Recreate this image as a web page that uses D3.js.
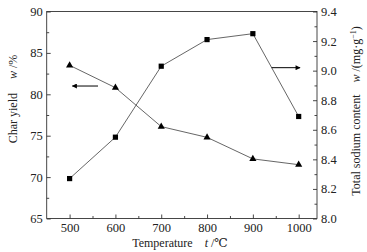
<!DOCTYPE html>
<html>
<head>
<meta charset="utf-8">
<script src="https://cdn.jsdelivr.net/npm/d3@7"></script>
<style>
  html, body { margin: 0; padding: 0; background: #fff; }
  svg { display: block; font-family: "Liberation Serif", "DejaVu Serif", serif; }
</style>
</head>
<body>
<div id="chart"></div>
<script>
// temperature (°C)
const temps = [500, 600, 700, 800, 900, 1000];
// char yield, w / %  (left axis, triangles)
const charYield = [83.5, 80.8, 76.1, 74.8, 72.2, 71.5];
// total sodium content, w / (mg·g-1)  (right axis, squares)
const sodium = [8.27, 8.55, 9.03, 9.21, 9.25, 8.69];

const xTicks = [500, 600, 700, 800, 900, 1000];
const xMinor = [550, 650, 750, 850, 950];
const yLeftTicks = [65, 70, 75, 80, 85, 90];
const yLeftMinor = [67.5, 72.5, 77.5, 82.5, 87.5];
const yRightTicks = [8.0, 8.2, 8.4, 8.6, 8.8, 9.0, 9.2, 9.4];
const yRightMinor = [8.1, 8.3, 8.5, 8.7, 8.9, 9.1, 9.3];

const W = 367, H = 252;
const plot = { left: 46.7, right: 317, top: 11.5, bottom: 218.5 };

const svg = d3.select("#chart").append("svg")
  .attr("width", W).attr("height", H);

const x = d3.scaleLinear().domain([450, 1040]).range([plot.left, plot.right]);
const yL = d3.scaleLinear().domain([65, 90]).range([plot.bottom, plot.top]);
const yR = d3.scaleLinear().domain([8.0, 9.4]).range([plot.bottom, plot.top]);

const ink = "#333";

// frame
svg.append("rect")
  .attr("x", plot.left).attr("y", plot.top)
  .attr("width", plot.right - plot.left).attr("height", plot.bottom - plot.top)
  .attr("fill", "none").attr("stroke", ink).attr("stroke-width", 0.9);

function styleAxis(g) {
  g.select(".domain").remove();
  g.selectAll(".tick line").attr("stroke", ink).attr("stroke-width", 0.9);
  g.selectAll(".tick text").attr("fill", "#222").attr("font-size", 12.5)
    .attr("font-family", "Liberation Serif, serif");
}

// bottom axis (ticks inside)
svg.append("g").attr("transform", `translate(0,${plot.bottom})`)
  .call(d3.axisBottom(x).tickValues(xTicks).tickSizeInner(-4).tickSizeOuter(0).tickPadding(5)
    .tickFormat(d3.format("d")))
  .call(styleAxis);
svg.append("g").attr("transform", `translate(0,${plot.bottom})`)
  .call(d3.axisBottom(x).tickValues(xMinor).tickSizeInner(-2.5).tickSizeOuter(0).tickFormat(""))
  .call(styleAxis);

// left axis
svg.append("g").attr("transform", `translate(${plot.left},0)`)
  .call(d3.axisLeft(yL).tickValues(yLeftTicks).tickSizeInner(-4).tickSizeOuter(0).tickPadding(4))
  .call(styleAxis);
svg.append("g").attr("transform", `translate(${plot.left},0)`)
  .call(d3.axisLeft(yL).tickValues(yLeftMinor).tickSizeInner(-2.5).tickSizeOuter(0).tickFormat(""))
  .call(styleAxis);

// right axis
svg.append("g").attr("transform", `translate(${plot.right},0)`)
  .call(d3.axisRight(yR).tickValues(yRightTicks).tickSizeInner(-4).tickSizeOuter(0).tickPadding(4)
    .tickFormat(d3.format(".1f")))
  .call(styleAxis);
svg.append("g").attr("transform", `translate(${plot.right},0)`)
  .call(d3.axisRight(yR).tickValues(yRightMinor).tickSizeInner(-2.5).tickSizeOuter(0).tickFormat(""))
  .call(styleAxis);

// lines
const lineL = d3.line().x((d, i) => x(temps[i])).y(d => yL(d));
const lineR = d3.line().x((d, i) => x(temps[i])).y(d => yR(d));

svg.append("path").datum(charYield).attr("d", lineL)
  .attr("fill", "none").attr("stroke", "#555").attr("stroke-width", 0.9);
svg.append("path").datum(sodium).attr("d", lineR)
  .attr("fill", "none").attr("stroke", "#555").attr("stroke-width", 0.9);

// markers
svg.selectAll(".tri").data(charYield).join("path")
  .attr("class", "tri")
  .attr("transform", (d, i) => `translate(${x(temps[i])},${yL(d)})`)
  .attr("d", d3.symbol(d3.symbolTriangle, 22))
  .attr("fill", "#000");

svg.selectAll(".sq").data(sodium).join("rect")
  .attr("class", "sq")
  .attr("x", (d, i) => x(temps[i]) - 2.6)
  .attr("y", d => yR(d) - 2.6)
  .attr("width", 5.2).attr("height", 5.2)
  .attr("fill", "#000");

// arrows pointing to each series' axis
const defs = svg.append("defs");
defs.append("marker").attr("id", "ah")
  .attr("viewBox", "0 0 10 10").attr("refX", 9).attr("refY", 5)
  .attr("markerWidth", 7).attr("markerHeight", 5)
  .attr("markerUnits", "userSpaceOnUse")
  .attr("orient", "auto")
  .append("path").attr("d", "M0,0 L10,5 L0,10 Z").attr("fill", "#000");

svg.append("line")
  .attr("x1", x(562)).attr("x2", x(506))
  .attr("y1", yL(81)).attr("y2", yL(81))
  .attr("stroke", "#000").attr("stroke-width", 1)
  .attr("marker-end", "url(#ah)");
svg.append("line")
  .attr("x1", x(941)).attr("x2", x(1003))
  .attr("y1", yR(9.02)).attr("y2", yR(9.02))
  .attr("stroke", "#000").attr("stroke-width", 1)
  .attr("marker-end", "url(#ah)");

// axis titles
const xt = svg.append("text")
  .attr("x", 180).attr("y", 247)
  .attr("text-anchor", "middle").attr("font-size", 12).attr("fill", "#222");
xt.append("tspan").text("Temperature");
xt.append("tspan").attr("dx", 12).attr("font-style", "italic").text("t");
xt.append("tspan").text(" /℃");

const lt = svg.append("text")
  .attr("transform", "translate(17,99) rotate(-90)")
  .attr("text-anchor", "middle").attr("font-size", 12).attr("fill", "#222");
lt.append("tspan").text("Char yield");
lt.append("tspan").attr("dx", 14).attr("font-style", "italic").text("w");
lt.append("tspan").text(" /%");

const rt = svg.append("text")
  .attr("transform", "translate(360,111) rotate(-90)")
  .attr("text-anchor", "middle").attr("font-size", 12).attr("fill", "#222");
rt.append("tspan").text("Total sodium content");
rt.append("tspan").attr("dx", 12).attr("font-style", "italic").text("w");
rt.append("tspan").text(" /(mg·g");
rt.append("tspan").attr("dy", -4).attr("font-size", 8).text("−1");
rt.append("tspan").attr("dy", 4).text(")");
</script>
</body>
</html>
